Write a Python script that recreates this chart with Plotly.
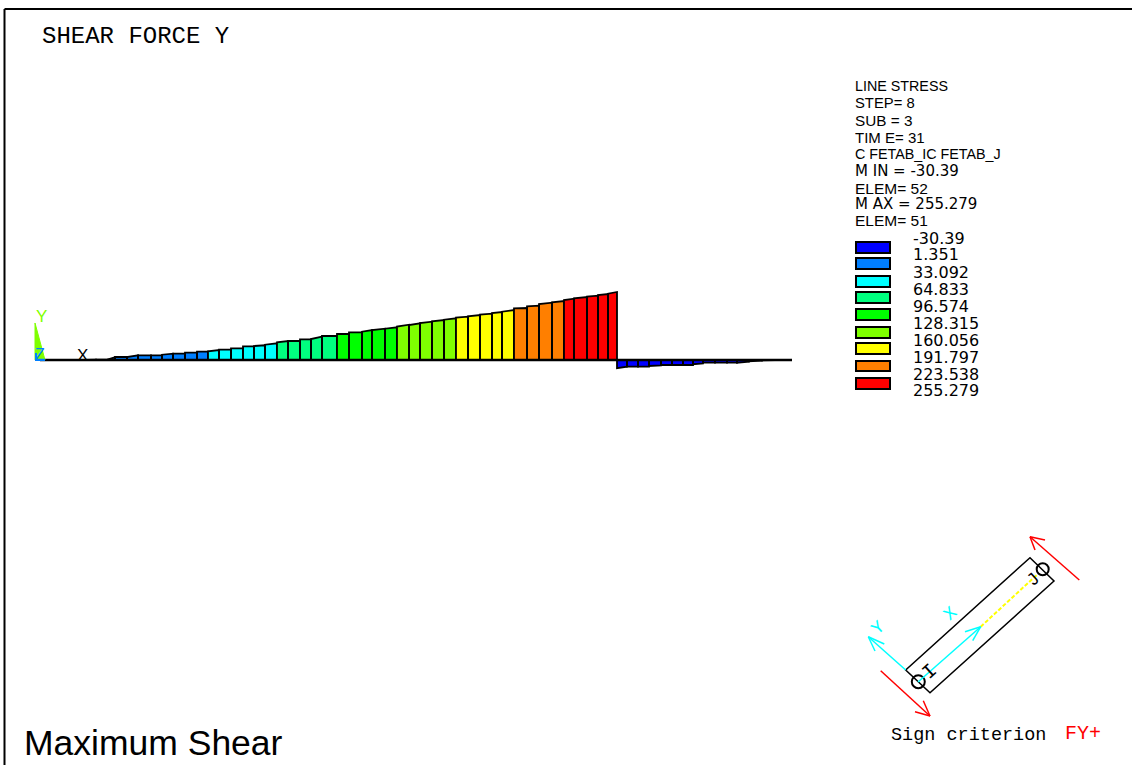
import plotly.graph_objects as go

W, H = 1132, 765

# Distance along the beam at each element end
element_starts = [0, 11, 22, 34, 45, 56, 68, 75, 87, 98, 111, 122, 133, 145, 157, 168, 179, 191, 203,
                  214, 225, 237, 248, 260, 271, 282, 297, 309, 322, 332, 345, 357, 369, 380, 392,
                  404, 416, 428, 440, 452, 462, 474, 487, 499, 512, 524, 534, 547, 558, 568,
                  577, 587, 598, 609, 621, 632, 643, 653, 663, 675, 687, 697, 709, 722, 735]
element_ends = element_starts[1:] + [752]

# Line stress at end I and end J of every element
stress_i = [0, 0.3, 0.5, 0.6, 0.7, 0.9, 1.9, 11.3, 11.3, 17.6, 17.6, 19.9, 23.6, 27.4, 31.2, 32.7, 38.7,
            43.9, 51.4, 52.6, 57.4, 66.4, 71.3, 77.7, 78.8, 90.1, 97.6, 104, 106.2, 112.6, 117.5,
            125.8, 131.4, 138.9, 145.3, 151.3, 158.8, 164.1, 170.1, 176.4, 181.3, 194.1, 201.6,
            210.2, 216.6, 225.2, 231.6, 237.7, 244, 248.9,
            -30.39, -25, -25, -22.5, -18.8, -18.8, -18.8, -16, -10, -10, -10, -10, -5, -1.5, -0.3]
stress_j = [0.3, 0.5, 0.6, 0.7, 0.9, 1.2, 10.1, 11.3, 17.6, 17.6, 17.6, 23.6, 23.6, 27.4, 31.2, 37.5, 38.7,
            43.9, 51.4, 55.2, 62.7, 71.3, 71.3, 77.7, 87.5, 90.1, 97.6, 104, 112.6, 117.5, 122.8,
            132.5, 137.8, 143.8, 150.2, 156.5, 162.6, 168.9, 173.8, 180.2, 187.7, 195.2, 203.9,
            215.1, 221.5, 230.1, 236.5, 241.4, 247.8, 255.279,
            -25, -25, -25, -20, -18.8, -18.8, -18.8, -12.5, -10, -10, -10, -6, -2, -0.5, 0]

legend_levels = ["-30.39", "1.351", "33.092", "64.833", "96.574", "128.315", "160.056", "191.797", "223.538", "255.279"]
band_colors = ["#0000FF", "#007FFF", "#00FFFF", "#00FF7F", "#00FF00", "#7FFF00", "#FFFF00", "#FF7F00", "#FF0000"]
info_lines = ["LINE STRESS", "STEP= 8", "SUB = 3", "TIM E= 31", "C FETAB_IC FETAB_J",
              "M IN = -30.39", "ELEM= 52", "M AX = 255.279", "ELEM= 51"]

SCALE = 0.2664          # pixels per stress unit
BASE_Y = 360            # pixel row of the zero line
BASE_X = 40


def px(x):
    return x / W


def py(y):
    return 1 - y / H


def band_of(v):
    edges = [float(v_) for v_ in legend_levels]
    for k in range(len(band_colors)):
        if v < edges[k + 1]:
            return k
    return len(band_colors) - 1


fig = go.Figure()

groups = {k: ([], []) for k in range(len(band_colors))}
for a, b, vi, vj in zip(element_starts, element_ends, stress_i, stress_j):
    gx, gy = groups[band_of((vi + vj) / 2)]
    gx += [a, a, b, b, a, None]
    gy += [0, vi, vj, 0, 0, None]
for k, (gx, gy) in groups.items():
    fig.add_trace(go.Scatter(x=gx, y=gy, mode="lines", fill="toself", fillcolor=band_colors[k],
                             line=dict(color="black", width=1.8), hoverinfo="skip"))
fig.add_trace(go.Scatter(x=[0, 752], y=[0, 0], mode="lines", line=dict(color="black", width=2.4), hoverinfo="skip"))

shapes = []
annots = []


def seg(x0, y0, x1, y1, color="black", width=1.5, dash=None):
    shapes.append(dict(type="line", xref="paper", yref="paper", x0=px(x0), y0=py(y0), x1=px(x1), y1=py(y1),
                       line=dict(color=color, width=width, dash=dash or "solid")))


def poly(points, color="black", width=1.5, fill=None):
    path = "M " + " L ".join(f"{px(x):.5f},{py(y):.5f}" for x, y in points) + " Z"
    shapes.append(dict(type="path", xref="paper", yref="paper", path=path,
                       line=dict(color=color, width=width), fillcolor=fill or "rgba(0,0,0,0)"))


def text(x, y, s, size, color="black", font="Liberation Sans", xanchor="left", angle=0):
    annots.append(dict(xref="paper", yref="paper", x=px(x), y=py(y), text=s, showarrow=False,
                       xanchor=xanchor, yanchor="middle", textangle=angle, borderpad=0, borderwidth=0,
                       font=dict(family=font, size=size, color=color)))


# Frame
seg(4.5, 9, 4.5, H, width=2)
seg(4.5, 9, W, 9, width=2)

# Titles
text(42, 36, "SHEAR FORCE Y", 24, font="Liberation Mono")
text(24, 743, "Maximum Shear", 35.5)

# Info block
info_y = [86, 103, 120, 137, 154, 171, 188, 204.5, 221]
info_sizes = [14.3, 14.8, 15.3, 15, 14.3, 15, 15.5, 15, 15.5]
info_fonts = ["Liberation Sans"] * 5 + ["DejaVu Sans", "Liberation Sans", "DejaVu Sans", "Liberation Sans"]
for yy, s, fs, ff in zip(info_y, info_lines, info_sizes, info_fonts):
    text(855, yy, s, fs, font=ff)

# Legend
level_y = [238, 255, 272, 289, 306, 323, 340, 357, 374, 391]
swatch_y = [(242, 253), (258, 269), (276, 287), (292, 303), (309, 320), (327, 338), (343, 354), (361, 371), (378, 389)]
for yy, s in zip(level_y, legend_levels):
    text(913, yy, s, 16, font="DejaVu Sans")
for (a, b), c in zip(swatch_y, band_colors):
    poly([(856, a), (890, a), (890, b), (856, b)], fill=c, width=2)

# Global triad
poly([(35, 323), (45, 360), (35, 360)], color="#7FFF00", fill="#7FFF00", width=1)
text(41, 316, "Y", 17, color="#7FFF00", xanchor="center")
text(40, 354, "Z", 16, color="#007FFF", xanchor="center")
seg(35, 360, 45, 360, color="#007FFF", width=2)
seg(36, 353, 36, 360, color="#007FFF", width=2)
text(82, 355, "X", 17, xanchor="center")

# Sign convention inset
poly([(1030, 557.7), (1054, 581), (930, 692.7), (905.7, 670)], width=1.5)
for cx, cy, r in [(1042.7, 569.3, 6), (918.3, 681.7, 6.5)]:
    shapes.append(dict(type="circle", xref="paper", yref="paper", x0=px(cx - r), x1=px(cx + r),
                       y0=py(cy + r), y1=py(cy - r), line=dict(color="black", width=2)))
seg(980.7, 626.7, 1036.7, 575, color="#FFFF00", width=2, dash="4px,2px")
seg(918, 682, 980.7, 626.7, color="#00FFFF", width=1.5)
seg(980.7, 626.7, 965, 631.7, color="#00FFFF", width=1.5)
seg(980.7, 626.7, 972.7, 640.7, color="#00FFFF", width=1.5)
seg(905.7, 670, 868.3, 636.7, color="#00FFFF", width=1.5)
seg(868.3, 636.7, 884.3, 644, color="#00FFFF", width=1.5)
seg(868.3, 636.7, 875, 651, color="#00FFFF", width=1.5)
seg(1079.3, 580, 1030, 536.7, color="#FF0000", width=1.5)
seg(1030, 536.7, 1045, 540, color="#FF0000", width=1.5)
seg(1030, 536.7, 1035, 550, color="#FF0000", width=1.5)
seg(880.7, 670.7, 930, 716, color="#FF0000", width=1.5)
seg(930, 716, 915, 711.7, color="#FF0000", width=1.5)
seg(930, 716, 923.3, 700.7, color="#FF0000", width=1.5)
text(950, 614, "X", 18, color="#00FFFF", font="Liberation Mono", xanchor="center", angle=-42)
text(878.3, 628.3, "Y", 18, color="#00FFFF", font="Liberation Mono", xanchor="center", angle=-42)
text(930, 671.7, "I", 20, font="Liberation Mono", xanchor="center", angle=-42)
text(1033, 580, "J", 18, font="Liberation Mono", xanchor="center", angle=-42)
text(891, 735, "Sign criterion", 18.5, font="Liberation Mono")
text(1065, 733, "FY+", 20, color="#FF0000", font="Liberation Mono")

hidden = dict(visible=False, showgrid=False, zeroline=False, fixedrange=True)
fig.update_layout(
    width=W, height=H, autosize=False, margin=dict(l=0, r=0, t=0, b=0),
    paper_bgcolor="white", plot_bgcolor="white", showlegend=False,
    xaxis=dict(range=[-BASE_X, W - BASE_X], **hidden),
    yaxis=dict(range=[-(H - BASE_Y) / SCALE, BASE_Y / SCALE], **hidden),
    shapes=shapes, annotations=annots,
)
fig.write_html("out.html", config=dict(displayModeBar=False),
               post_script="document.body.style.margin='0';document.body.style.overflow='hidden';")
